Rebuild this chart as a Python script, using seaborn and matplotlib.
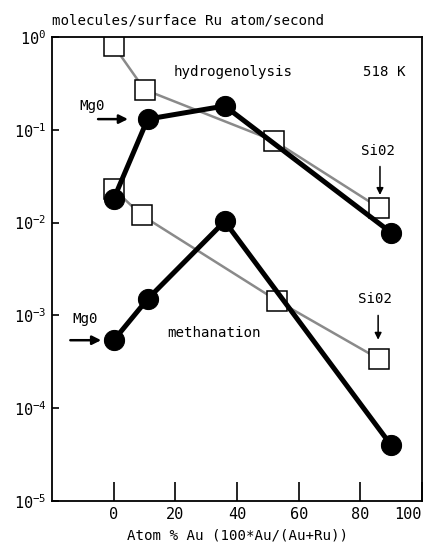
import numpy as np
import pandas as pd
import seaborn as sns
import matplotlib
matplotlib.use('Agg')
import matplotlib.pyplot as plt

# percent Au in the catalyst
hyd_sq_x = [0, 10, 52, 86]
hyd_sq_y = [0.80, 0.27, 0.076, 0.0145]
meth_sq_x = [0, 9, 53, 86]
meth_sq_y = [0.023, 0.012, 0.00144, 0.00034]

hyd_ci_x = [0, 11, 36, 90]
hyd_ci_y = [0.018, 0.13, 0.18, 0.0078]
meth_ci_x = [0, 11, 36, 90]
meth_ci_y = [0.00054, 0.0015, 0.0103, 0.00004]

x_ticks = [0, 20, 40, 60, 80, 100]
y_ticks = [1e0, 1e-1, 1e-2, 1e-3, 1e-4, 1e-5]


def series_frame(x, y, name):
    return pd.DataFrame({'au': x, 'rate': y, 'series': name})


def main():
    sns.set_style('ticks', {'text.color': 'black', 'axes.labelcolor': 'black',
                            'axes.edgecolor': 'black', 'xtick.color': 'black',
                            'ytick.color': 'black'})
    plt.rcParams['font.family'] = ['DejaVu Sans Mono']
    plt.rcParams['mathtext.fontset'] = 'dejavusans'

    fig = plt.figure(figsize=(4.24, 5.5), dpi=100)
    ax = fig.add_axes([0.123, 0.089, 0.872, 0.844])

    squares = [series_frame(hyd_sq_x, hyd_sq_y, 'h'),
               series_frame(meth_sq_x, meth_sq_y, 'm')]
    circles = [series_frame(hyd_ci_x, hyd_ci_y, 'h'),
               series_frame(meth_ci_x, meth_ci_y, 'm')]

    # squares with thin gray line underneath
    for df in squares:
        sns.lineplot(data=df, x='au', y='rate', ax=ax, sort=False,
                     color='#8a8a8a', lw=1.8, marker='s', markersize=15,
                     markerfacecolor='white', markeredgecolor='black',
                     markeredgewidth=1.1, zorder=2)
    # filled circles with thick black line
    for df in circles:
        sns.lineplot(data=df, x='au', y='rate', ax=ax, sort=False,
                     color='black', lw=3.6, marker='o', markersize=14.5,
                     markerfacecolor='black', markeredgecolor='black',
                     zorder=3)

    ax.set_yscale('log')
    ax.set_xlim(-20, 100)
    ax.set_ylim(1e-5, 1e0)
    ax.set_xticks(x_ticks)
    ax.set_yticks(y_ticks)
    ax.yaxis.set_minor_locator(matplotlib.ticker.NullLocator())
    ax.tick_params(axis='x', direction='in', length=14, width=1.2,
                   labelsize=11, pad=4)
    ax.tick_params(axis='y', direction='in', length=5, width=1.2,
                   labelsize=11, pad=4)
    ax.get_xticklabels()[-1].set_horizontalalignment('right')
    for s in ax.spines.values():
        s.set_linewidth(1.3)
        s.set_visible(True)

    ax.set_xlabel('Atom % Au (100*Au/(Au+Ru))', fontsize=10.2, labelpad=5)
    ax.set_ylabel('')
    fig.text(0.123, 0.962, 'molecules/surface Ru atom/second',
             fontsize=10.2, ha='left', va='center')

    kw = dict(fontsize=10.2, va='center')
    ax.text(19.4, 0.42, 'hydrogenolysis', ha='left', **kw)
    ax.text(81, 0.42, '518 K', ha='left', **kw)
    ax.text(85.8, 0.059, 'Si02', ha='center', **kw)
    ax.text(84.8, 0.0015, 'Si02', ha='center', **kw)
    ax.text(17.5, 0.00065, 'methanation', ha='left', **kw)
    ax.text(-11.3, 0.18, 'Mg0', ha='left', **kw)
    ax.text(-13.3, 0.00092, 'Mg0', ha='left', **kw)

    arrow = dict(arrowstyle='-|>', color='black', lw=1.8, mutation_scale=13)
    ax.annotate('', xy=(5.5, 0.13), xytext=(-6, 0.13), arrowprops=arrow)
    ax.annotate('', xy=(-3.2, 0.00054), xytext=(-15, 0.00054),
                arrowprops=arrow)
    thin = dict(arrowstyle='-|>', color='black', lw=1.1, mutation_scale=10)
    ax.annotate('', xy=(86.4, 0.0185), xytext=(86.4, 0.043), arrowprops=thin)
    ax.annotate('', xy=(85.8, 0.00051), xytext=(85.8, 0.00107),
                arrowprops=thin)

    fig.savefig('out.png', dpi=100)


if __name__ == '__main__':
    main()
